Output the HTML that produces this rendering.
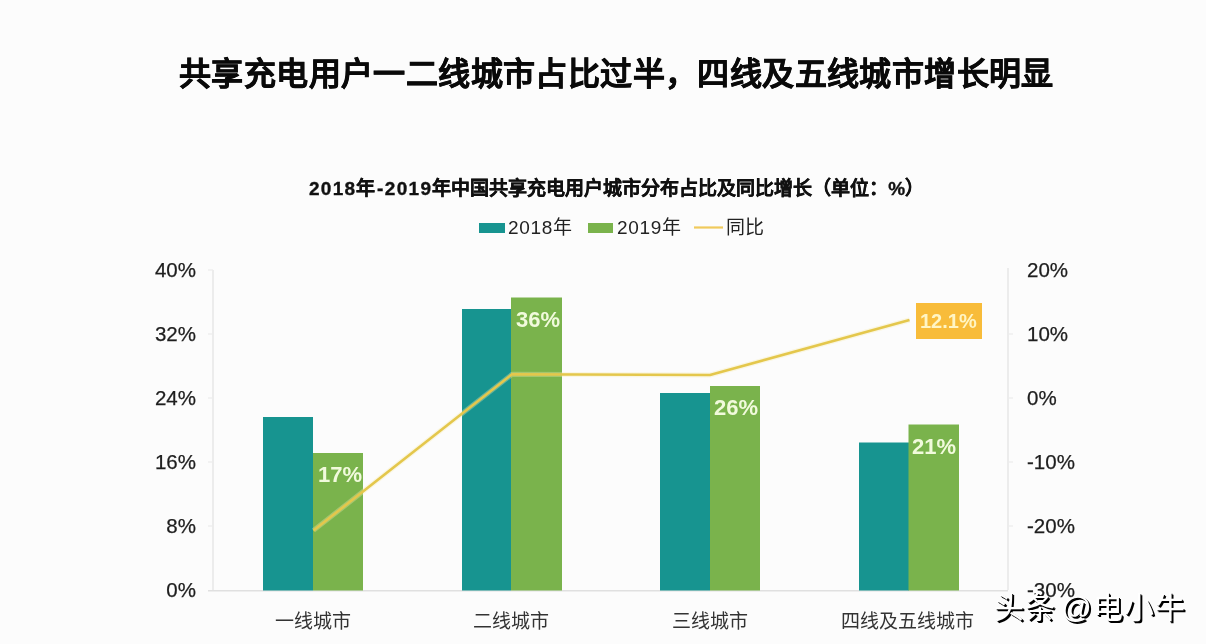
<!DOCTYPE html>
<html lang="zh-CN"><head><meta charset="utf-8">
<style>
html,body{margin:0;padding:0;}
body{width:1206px;height:644px;overflow:hidden;background:#fcfcfc;position:relative;font-family:"Liberation Sans",sans-serif;color:#111;}
.t{position:absolute;white-space:nowrap;line-height:1;will-change:transform;}
#title{left:179px;top:58px;font-size:32px;font-weight:bold;color:#0a0a0a;letter-spacing:0.4px;-webkit-text-stroke:0.5px #0a0a0a;}
#sub{left:309px;top:179px;font-size:19px;-webkit-text-stroke:0.35px #111;font-weight:bold;color:#111;}
.dg{letter-spacing:1.3px;}.hy{margin:0 1.5px;}
.leg{font-size:19px;color:#222;top:218px;}
.yl{font-size:20.5px;color:#1e1e1e;-webkit-text-stroke:0.25px #1e1e1e;}
.yl.l{text-align:right;width:80px;}
.cat{font-size:19px;color:#333;top:612px;}
.bl{font-size:22px;font-weight:bold;color:#f1fadc;}
#wm{left:994px;top:593px;font-size:30px;color:#fff;letter-spacing:1px;word-spacing:-4px;text-shadow:1px 1px 0 #000,1.8px 1.8px 0 #000;}
</style></head>
<body>
<svg width="1206" height="644" style="position:absolute;left:0;top:0">
  <!-- axes -->
  <line x1="213" y1="270" x2="213" y2="590" stroke="#e4e4e4" stroke-width="1.3"/>
  <line x1="208" y1="590.7" x2="1008" y2="590.7" stroke="#e0e0e0" stroke-width="1.5"/>
  <line x1="1008" y1="268" x2="1008" y2="590" stroke="#e4e4e4" stroke-width="1.3"/>
  <g stroke="#ececec" stroke-width="1.3">
    <line x1="208" y1="270" x2="213" y2="270"/>
    <line x1="208" y1="334" x2="213" y2="334"/>
    <line x1="208" y1="398" x2="213" y2="398"/>
    <line x1="208" y1="462" x2="213" y2="462"/>
    <line x1="208" y1="526" x2="213" y2="526"/>
    <line x1="1008" y1="334" x2="1013" y2="334"/>
    <line x1="1008" y1="398" x2="1013" y2="398"/>
    <line x1="1008" y1="462" x2="1013" y2="462"/>
    <line x1="1008" y1="526" x2="1013" y2="526"/>
  </g>
  <!-- bars -->
  <g fill="#179490">
    <rect x="263" y="417" width="50" height="173.5"/>
    <rect x="462" y="309" width="49" height="281.5"/>
    <rect x="660" y="393" width="50" height="197.5"/>
    <rect x="859" y="442.5" width="50" height="148"/>
  </g>
  <g fill="#7ab34c">
    <rect x="313" y="453" width="50" height="137.5"/>
    <rect x="511" y="297.5" width="51" height="293"/>
    <rect x="710" y="386" width="50" height="204.5"/>
    <rect x="908.5" y="424.5" width="50.5" height="166"/>
  </g>
  <!-- line -->
  <polyline points="313.5,530.4 512,374.3 710,375 909.5,320" fill="none" stroke="#f6ecb0" stroke-opacity="0.35" stroke-width="5" stroke-linejoin="round"/>
  <polyline points="313.5,530.4 512,374.3 710,375 909.5,320" fill="none" stroke="#e4c74c" stroke-width="2.6" stroke-linejoin="round"/>
  <rect x="916" y="303" width="66" height="36" fill="#f8bc3a"/>
  <!-- legend -->
  <rect x="479" y="223" width="26" height="10" fill="#179490"/>
  <rect x="588" y="223" width="25" height="10" fill="#7ab34c"/>
  <line x1="694" y1="227.5" x2="723" y2="227.5" stroke="#f0ca5c" stroke-width="2.2"/>
</svg>
<div class="t" id="title">共享充电用户一二线城市占比过半，四线及五线城市增长明显</div>
<div class="t" id="sub"><span class="dg">2018</span>年<span class="hy">-</span><span class="dg">2019</span>年中国共享充电用户城市分布占比及同比增长（单位：%）</div>
<div class="t leg" style="left:508px"><span style="letter-spacing:0.7px">2018</span>年</div>
<div class="t leg" style="left:617px"><span style="letter-spacing:0.7px">2019</span>年</div>
<div class="t leg" style="left:726px">同比</div>

<div class="t yl l" style="left:116px;top:260px">40%</div>
<div class="t yl l" style="left:116px;top:324px">32%</div>
<div class="t yl l" style="left:116px;top:388px">24%</div>
<div class="t yl l" style="left:116px;top:452px">16%</div>
<div class="t yl l" style="left:116px;top:516px">8%</div>
<div class="t yl l" style="left:116px;top:580px">0%</div>

<div class="t yl" style="left:1027px;top:260px">20%</div>
<div class="t yl" style="left:1027px;top:324px">10%</div>
<div class="t yl" style="left:1027px;top:388px">0%</div>
<div class="t yl" style="left:1027px;top:452px">-10%</div>
<div class="t yl" style="left:1027px;top:516px">-20%</div>
<div class="t yl" style="left:1027px;top:580px">-30%</div>

<div class="t cat" style="left:275px">一线城市</div>
<div class="t cat" style="left:473px">二线城市</div>
<div class="t cat" style="left:672px">三线城市</div>
<div class="t cat" style="left:841px">四线及五线城市</div>

<div class="t bl" style="left:318px;top:464px">17%</div>
<div class="t bl" style="left:516px;top:309px">36%</div>
<div class="t bl" style="left:714px;top:397px">26%</div>
<div class="t bl" style="left:912px;top:436px">21%</div>
<div class="t bl" style="left:920px;top:311px;font-size:20px;color:#fff5c4">12.1%</div>

<div class="t" id="wm">头条 @电小牛</div>
</body></html>
